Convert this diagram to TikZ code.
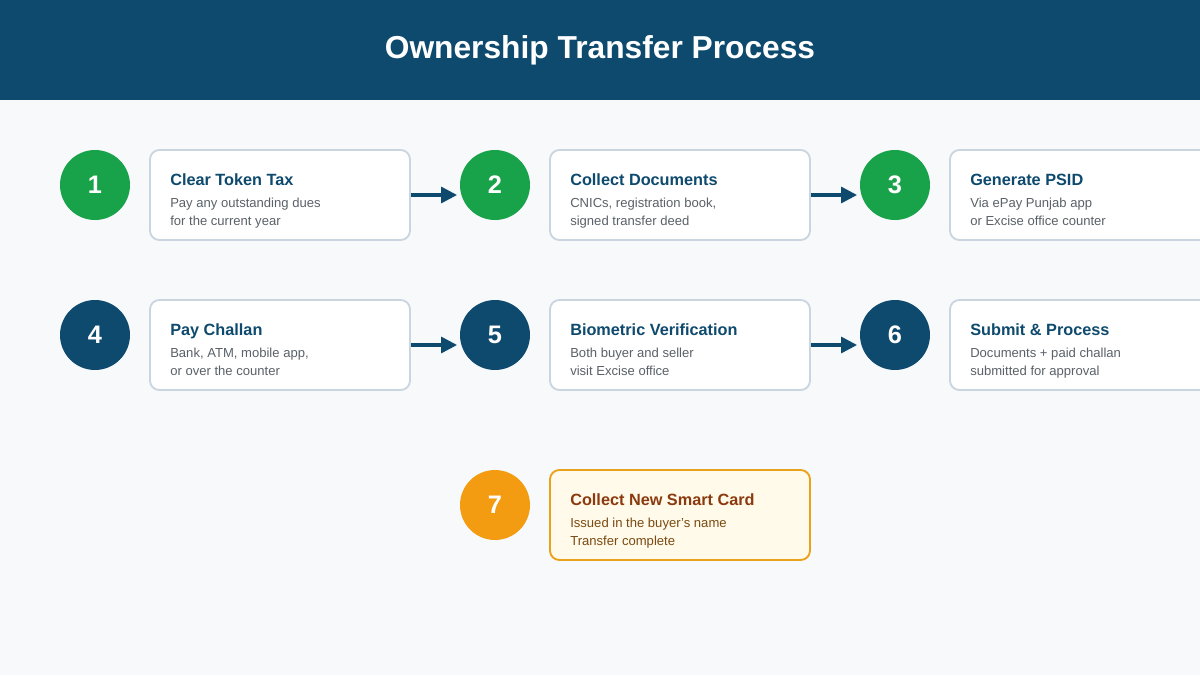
\documentclass[tikz,border=0pt]{standalone}
\usepackage{fontspec}
\setmainfont{Liberation Sans}
\definecolor{hdrblue}{HTML}{0E4A6E}
\definecolor{pagebg}{HTML}{F7F9FB}
\definecolor{stepgreen}{HTML}{18A34A}
\definecolor{steporange}{HTML}{F39C12}
\definecolor{cardline}{HTML}{CBD5E0}
\definecolor{bodygray}{HTML}{5A6168}
\definecolor{goldline}{HTML}{E8A21B}
\definecolor{goldfill}{HTML}{FFFAEA}
\definecolor{goldtitle}{HTML}{8B3A0F}
\definecolor{goldbody}{HTML}{7A4A12}
\usetikzlibrary{arrows.meta,positioning}

\begin{document}
\begin{tikzpicture}[x=0.75pt,y=-0.75pt,
        numcirc/.style={circle, minimum size=52.5pt, inner sep=0pt, text=white,
                        font=\fontsize{19}{22}\selectfont\bfseries},
        stepcard/.style={rectangle, rounded corners=7pt, draw=cardline, fill=white,
                         line width=1.4pt, minimum width=195pt, minimum height=67.5pt},
        cardtitle/.style={anchor=base west, inner sep=0pt, text=hdrblue,
                          font=\fontsize{12.2}{14}\selectfont\bfseries},
        cardbody/.style={anchor=base west, inner sep=0pt, text=bodygray,
                         font=\fontsize{9.8}{11}\selectfont},
        arr/.style={-{Triangle[length=12pt, width=12pt]}, line width=2.4pt, hdrblue,
                    shorten >=2pt}
      ]
        \clip (0,0) rectangle (1200,675);
        \fill[pagebg] (0,0) rectangle (1200,675);
        \fill[hdrblue] (0,0) rectangle (1200,100);
        \node[text=white, font=\fontsize{23.8}{28}\selectfont\bfseries] (head) at (600,50) {Ownership Transfer Process};

        % row 1
        \node[numcirc, fill=stepgreen] (c1) at (95,185) {1};
        \node[numcirc, fill=stepgreen] (c2) at (495,185) {2};
        \node[numcirc, fill=stepgreen] (c3) at (895,185) {3};
        \node[stepcard] (s1) at (280,195) {};
        \node[stepcard] (s2) at (680,195) {};
        \node[stepcard] (s3) at (1080,195) {};
        \node[cardtitle] (t1) at (170,185) {Clear Token Tax};
        \node[cardbody]  (b1) at (170,207) {Pay any outstanding dues};
        \node[cardbody]  (d1) at (170,225) {for the current year};
        \node[cardtitle] (t2) at (570,185) {Collect Documents};
        \node[cardbody]  (b2) at (570,207) {CNICs, registration book,};
        \node[cardbody]  (d2) at (570,225) {signed transfer deed};
        \node[cardtitle] (t3) at (970,185) {Generate PSID};
        \node[cardbody]  (b3) at (970,207) {Via ePay Punjab app};
        \node[cardbody]  (d3) at (970,225) {or Excise office counter};

        % row 2
        \node[numcirc, fill=hdrblue] (c4) at (95,335) {4};
        \node[numcirc, fill=hdrblue] (c5) at (495,335) {5};
        \node[numcirc, fill=hdrblue] (c6) at (895,335) {6};
        \node[stepcard] (s4) at (280,345) {};
        \node[stepcard] (s5) at (680,345) {};
        \node[stepcard] (s6) at (1080,345) {};
        \node[cardtitle] (t4) at (170,335) {Pay Challan};
        \node[cardbody]  (b4) at (170,357) {Bank, ATM, mobile app,};
        \node[cardbody]  (d4) at (170,375) {or over the counter};
        \node[cardtitle] (t5) at (570,335) {Biometric Verification};
        \node[cardbody]  (b5) at (570,357) {Both buyer and seller};
        \node[cardbody]  (d5) at (570,375) {visit Excise office};
        \node[cardtitle] (t6) at (970,335) {Submit \& Process};
        \node[cardbody]  (b6) at (970,357) {Documents + paid challan};
        \node[cardbody]  (d6) at (970,375) {submitted for approval};

        % row 3
        \node[numcirc, fill=steporange] (c7) at (495,505) {7};
        \node[stepcard, draw=goldline, fill=goldfill] (s7) at (680,515) {};
        \node[cardtitle, text=goldtitle] (t7) at (570,505) {Collect New Smart Card};
        \node[cardbody, text=goldbody]   (b7) at (570,527) {Issued in the buyer's name};
        \node[cardbody, text=goldbody]   (d7) at (570,545) {Transfer complete};

        \draw[arr] (s1.east) -- (s1.east -| c2.west);
        \draw[arr] (s2.east) -- (s2.east -| c3.west);
        \draw[arr] (s4.east) -- (s4.east -| c5.west);
        \draw[arr] (s5.east) -- (s5.east -| c6.west);
      \end{tikzpicture}
\end{document}
